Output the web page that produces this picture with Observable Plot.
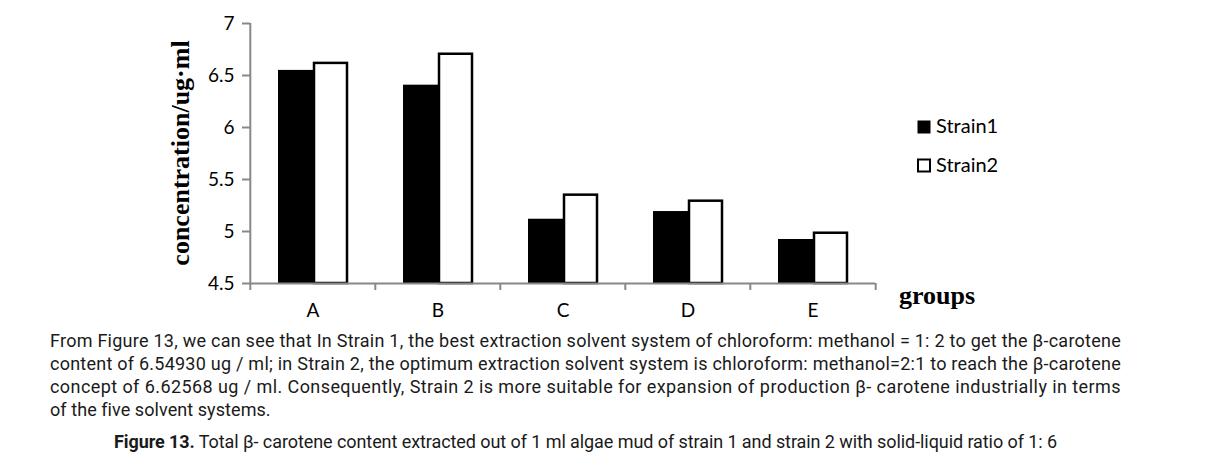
<!DOCTYPE html>
<html>
<head>
<meta charset="utf-8">
<script src="https://cdn.jsdelivr.net/npm/d3@7"></script>
<script src="https://cdn.jsdelivr.net/npm/@observablehq/plot@0.6"></script>
<style>
  html, body { margin: 0; padding: 0; background: #fff; }
  #wrap { position: relative; width: 1221px; height: 454px; overflow: hidden; }
  #chart svg { display: block; }
  .txt { position: absolute; font-family: "Liberation Sans Narrow", Roboto, "Liberation Sans", sans-serif; font-size: 18px; line-height: 23px; color: #1a1a1a; white-space: nowrap; }
</style>
</head>
<body>
<div id="wrap">
  <div id="chart"></div>
  <div class="txt fit" data-w="1071" style="left:50px; top:329px;">From Figure 13, we can see that In Strain 1, the best extraction solvent system of chloroform: methanol = 1: 2 to get the β-carotene</div>
  <div class="txt fit" data-w="1071" style="left:50px; top:352px;">content of 6.54930 ug / ml; in Strain 2, the optimum extraction solvent system is chloroform: methanol=2:1 to reach the β-carotene</div>
  <div class="txt fit" data-w="1071" style="left:50px; top:375px;">concept of 6.62568 ug / ml. Consequently, Strain 2 is more suitable for expansion of production β- carotene industrially in terms</div>
  <div class="txt fit" data-w="220" style="left:50px; top:398px;">of the five solvent systems.</div>
  <div class="txt fit" data-w="943" style="left:114px; top:430px;"><b>Figure 13.</b> Total β- carotene content extracted out of 1 ml algae mud of strain 1 and strain 2 with solid-liquid ratio of 1: 6</div>
</div>
<script>
// ---- data ----
const groups = ["A", "B", "C", "D", "E"];
const strains = ["Strain1", "Strain2"];
const strain1 = [6.549, 6.407, 5.118, 5.192, 4.923];
const strain2 = [6.626, 6.714, 5.359, 5.301, 4.993];
const yTicks = [4.5, 5, 5.5, 6, 6.5, 7];
const yLabel = "concentration/ug·ml";
const xLabel = "groups";

const rows = groups.flatMap((g, i) => [
  {group: g, strain: strains[0], value: strain1[i]},
  {group: g, strain: strains[1], value: strain2[i]}
]);

// ---- layout ----
const W = 1221, H = 326;
const mL = 249, mR = 345, mT = 23, mB = 43;
const bw = (W - mL - mR) / groups.length;
const yMin = yTicks[0], yMax = yTicks[yTicks.length - 1];
const gray = "#888";

const plot = Plot.plot({
  width: W,
  height: H,
  marginLeft: mL,
  marginRight: mR,
  marginTop: mT,
  marginBottom: mB,
  style: {fontFamily: "Lato, 'Open Sans', sans-serif", color: "#000", background: "#fff"},
  fx: {domain: groups, padding: 0, axis: null, label: null},
  x: {domain: strains, paddingInner: 0, paddingOuter: 0.74, axis: null, label: null},
  y: {domain: [yMin, yMax], axis: null, label: null},
  marks: [
    Plot.barY(rows.filter(d => d.strain === strains[0]), {fx: "group", x: "strain", y1: yMin, y2: "value", fill: "#000"}),
    Plot.barY(rows.filter(d => d.strain === strains[1]), {fx: "group", x: "strain", y1: yMin, y2: "value", fill: "#fff", stroke: "#000", strokeWidth: 2.5, insetLeft: 1, insetRight: 1, insetTop: 1}),
    Plot.ruleY([yMin], {stroke: gray, strokeWidth: 2}),
    // category boundary ticks
    Plot.ruleX(groups, {fx: d => d, x: null, y1: yMin, y2: yMin, insetBottom: -7, dx: -bw / 2, stroke: gray, strokeWidth: 2}),
    Plot.ruleX([groups[groups.length - 1]], {fx: d => d, x: null, y1: yMin, y2: yMin, insetBottom: -7, dx: bw / 2, stroke: gray, strokeWidth: 2}),
    // y axis line
    Plot.ruleX([groups[0]], {fx: d => d, x: null, y1: yMin, y2: yMax, dx: -bw / 2, stroke: gray, strokeWidth: 2}),
    Plot.axisY({ticks: yTicks, tickFormat: d => String(d), tickSize: 8, tickPadding: 8, stroke: gray, strokeWidth: 2, fill: "#000", fontSize: 19, label: null}),
    Plot.axisFx({anchor: "bottom", tickSize: 0, tickPadding: 20, fontSize: 19, fill: "#000", label: null})
  ]
});
document.getElementById("chart").appendChild(plot);

// axis titles and legend
const svg = d3.select(plot);
svg.append("text")
  .attr("transform", "translate(189,153) rotate(-90)")
  .attr("text-anchor", "middle")
  .style("font-family", "'Liberation Serif', 'Times New Roman', serif")
  .style("font-weight", "bold")
  .style("font-size", "26px")
  .attr("fill", "#000")
  .text(yLabel);
svg.append("text")
  .attr("x", 899).attr("y", 304)
  .attr("text-anchor", "start")
  .style("font-family", "'Liberation Serif', 'Times New Roman', serif")
  .style("font-weight", "bold")
  .style("font-size", "26px")
  .attr("fill", "#000")
  .text(xLabel);

const leg = svg.append("g").attr("text-anchor", "start");
strains.forEach((s, i) => {
  const y0 = 121 + i * 38.5;
  leg.append("rect")
    .attr("x", 918).attr("y", y0)
    .attr("width", 12).attr("height", 12)
    .attr("fill", i === 0 ? "#000" : "#fff")
    .attr("stroke", "#000").attr("stroke-width", i === 0 ? 1 : 2);
  leg.append("text")
    .attr("x", 936).attr("y", y0 + 12)
    .attr("text-anchor", "start")
    .style("font-family", "Lato, 'Open Sans', sans-serif")
    .style("font-size", "20px")
    .attr("fill", "#000")
    .text(s);
});

// fit paragraph lines to the reference widths
document.querySelectorAll(".fit").forEach(el => {
  const target = +el.dataset.w;
  const w = el.getBoundingClientRect().width;
  const n = el.textContent.length;
  el.style.letterSpacing = ((target - w) / n) + "px";
});
</script>
</body>
</html>
